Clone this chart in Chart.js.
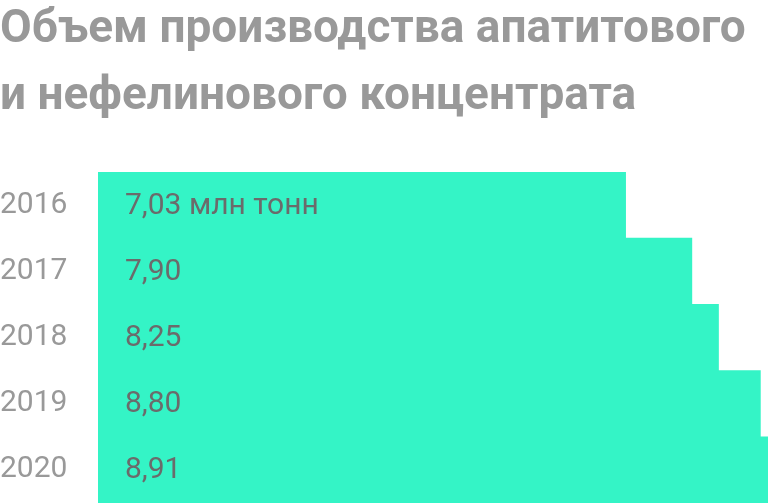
<!DOCTYPE html>
<html lang="ru">
<head>
<meta charset="utf-8">
<script src="https://cdn.jsdelivr.net/npm/chart.js@4/dist/chart.umd.min.js"></script>
<style>
  html, body { margin: 0; padding: 0; background: #fff; }
  #wrap { position: relative; width: 768px; height: 503px; }
</style>
</head>
<body>
<div id="wrap"><canvas id="prodChart"></canvas></div>
<script>
// данные
const years = ['2016', '2017', '2018', '2019', '2020'];
const volumes = [7.03, 7.90, 8.25, 8.80, 8.91];
const unitSuffix = ' млн тонн';   // только у первой строки
const titleLines = ['Объем производства апатитового', 'и нефелинового концентрата'];

const FONT = 'Roboto, "Liberation Sans", sans-serif';

function fmt(v) {
  return v.toFixed(2).replace('.', ',');
}

// подписи значений внутри полос
const valueLabels = {
  id: 'valueLabels',
  afterDatasetsDraw(chart) {
    const { ctx, chartArea } = chart;
    const meta = chart.getDatasetMeta(0);
    ctx.save();
    ctx.font = '400 30px ' + FONT;
    ctx.fillStyle = '#6b6b6b';
    ctx.textAlign = 'left';
    ctx.textBaseline = 'middle';
    meta.data.forEach((bar, i) => {
      const txt = fmt(volumes[i]) + (i === 0 ? unitSuffix : '');
      ctx.fillText(txt, chartArea.left + 27, bar.y + 1);
    });
    ctx.restore();
  }
};

new Chart(document.getElementById('prodChart'), {
  type: 'bar',
  data: {
    labels: years,
    datasets: [{
      data: volumes,
      backgroundColor: '#34f4c6',
      borderWidth: 0,
      barPercentage: 1,
      categoryPercentage: 1
    }]
  },
  plugins: [valueLabels],
  options: {
    indexAxis: 'y',
    responsive: true,
    maintainAspectRatio: false,
    animation: false,
    layout: { padding: 0 },
    plugins: {
      legend: { display: false },
      tooltip: { enabled: false },
      title: {
        display: true,
        text: titleLines,
        align: 'start',
        color: '#999999',
        font: { family: FONT, weight: '700', size: 46, lineHeight: 67 / 46 },
        padding: { top: -3, bottom: 41 }
      }
    },
    scales: {
      x: {
        display: false,
        min: 0.1,
        max: 8.9
      },
      y: {
        grid: { display: false, drawTicks: false },
        border: { display: false },
        ticks: {
          color: '#999999',
          font: { family: FONT, size: 30 },
          padding: 0,
          crossAlign: 'far'
        },
        afterFit(axis) {
          axis.width = 98;
          // без лишних отступов сверху/снизу от подписей
          axis.paddingTop = 0;
          axis.paddingBottom = 0;
        }
      }
    }
  }
});
</script>
</body>
</html>
